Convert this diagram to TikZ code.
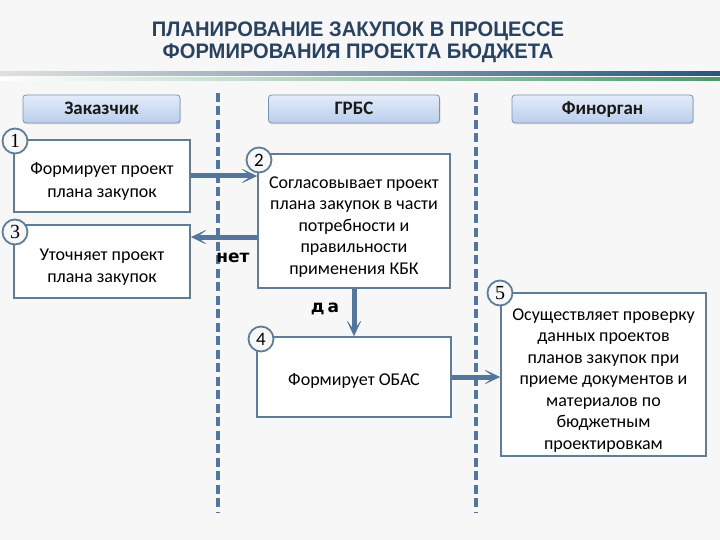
\documentclass[tikz,border=0pt]{standalone}
\usepackage{fontspec}
\setmainfont{Carlito}
\newfontfamily\titlefont[FakeStretch=0.96]{Liberation Sans}
\newfontfamily\numfont{Liberation Serif}
\newfontfamily\labfont{DejaVu Sans}
\usetikzlibrary{arrows.meta,shadows}
\newcommand\dnstrut[1]{\rule{0pt}{#1}}
\definecolor{bgc}{RGB}{247,247,247}
\definecolor{boxline}{RGB}{96,125,152}
\definecolor{flowc}{RGB}{82,118,158}
\definecolor{hdrtop}{RGB}{228,236,250}
\definecolor{hdrbot}{RGB}{186,205,236}
\definecolor{hdrline}{RGB}{122,146,180}
\definecolor{titlec}{RGB}{40,66,96}
\definecolor{barblue}{RGB}{40,88,122}
\definecolor{bargreen}{RGB}{76,154,108}
\begin{document}
\begin{tikzpicture}[x=1pt,y=-1pt,
  title/.style={align=center,text=titlec,font=\titlefont\bfseries\fontsize{21}{21.5}\selectfont},
  hdr/.style={draw=hdrline,line width=0.8pt,rounded corners=3pt,top color=hdrtop,bottom color=hdrbot,
    minimum height=28pt,inner sep=0pt,text height=12pt,text depth=0pt,
    font=\bfseries\fontsize{19}{20}\selectfont,text=black!90,
    drop shadow={shadow xshift=1pt,shadow yshift=-1.5pt,opacity=0.2}},
  box/.style={draw=boxline,line width=1.8pt,fill=white,align=center,inner sep=2pt,
    font=\fontsize{18}{21.5}\selectfont,text=black},
  num/.style={circle,draw=boxline,line width=1.8pt,fill=bgc,minimum size=25pt,inner sep=0pt,
    font=\fontsize{19}{19}\selectfont},
  lane/.style={draw=flowc,line width=3.5pt,dash pattern=on 9pt off 4.5pt},
  flow/.style={draw=flowc,line width=5pt,
    -{Stealth[length=17pt,width=16pt,inset=11pt,line width=0.5pt,fill=flowc]}},
  lab/.style={font=\labfont\bfseries\fontsize{17}{18}\selectfont,text=black}]
\fill[bgc] (0,0) rectangle (720,540);
\useasboundingbox (0,0) rectangle (720,540);
% title
\node[title] (title) at (358,42.5) {ПЛАНИРОВАНИЕ ЗАКУПОК В ПРОЦЕССЕ\\ФОРМИРОВАНИЯ ПРОЕКТА БЮДЖЕТА};
% decorative bars
\shade[left color=black!12,right color=barblue] (0,72) rectangle (720,75.5);
\shade[left color=white,right color=bargreen] (0,77.5) rectangle (720,80.5);
% swimlane separators
\coordinate (l1t) at (218,93);
\coordinate (l1b) at (218,513);
\coordinate (l2t) at (476,93);
\coordinate (l2b) at (476,513);
\draw[lane] (l1t) -- (l1b);
\draw[lane] (l2t) -- (l2b);
% headers
\node[hdr,minimum width=157pt] (h1) at (101.5,109) {Заказчик};
\node[hdr,minimum width=171pt] (h2) at (354,109) {ГРБС};
\node[hdr,minimum width=181pt] (h3) at (602.5,109) {Финорган};
% boxes
\node[box,minimum width=176pt,minimum height=72pt,font=\fontsize{18}{23}\selectfont] (b1) at (102,176) {\dnstrut{22pt}Формирует проект\\плана закупок};
\node[box,minimum width=176pt,minimum height=73pt,font=\fontsize{18}{22}\selectfont] (b3) at (102,261.5) {\dnstrut{23pt}Уточняет проект\\плана закупок};
\node[box,minimum width=192pt,minimum height=134pt] (b2) at (354,221) {\dnstrut{23pt}Согласовывает проект\\плана закупок в части\\потребности и\\правильности\\применения КБК};
\node[box,minimum width=194pt,minimum height=80pt] (b4) at (354,377) {\dnstrut{19pt}Формирует ОБАС};
\node[box,minimum width=205pt,minimum height=163pt] (b5) at (603.5,374.5) {\dnstrut{23pt}Осуществляет проверку\\данных проектов\\планов закупок при\\приеме документов и\\материалов по\\бюджетным\\проектировкам};
% numbers
\node[num,font=\numfont\fontsize{20}{20}\selectfont] (n1) at (15,141) {1};
\node[num,font=\numfont\fontsize{20}{20}\selectfont] (n3) at (15,232) {3};
\node[num] (n2) at (259,160) {2};
\node[num] (n4) at (261,339) {4};
\node[num,font=\numfont\fontsize{20}{20}\selectfont] (n5) at (500,293) {5};
% connectors
\coordinate (a3) at ([yshift=-13pt]b3.north east);
\draw[flow] (b1.east) -- (b1.east -| b2.west);
\draw[flow] (b2.west |- a3) -- (a3);
\draw[flow] (b2.south) -- (b4.north);
\draw[flow] (b4.east) -- (b4.east -| b5.west);
% labels
\node[lab] (no) at (233,258) {нет};
\node[lab] (yes) at (325,309) {д\kern3pt а};
\end{tikzpicture}
\end{document}
